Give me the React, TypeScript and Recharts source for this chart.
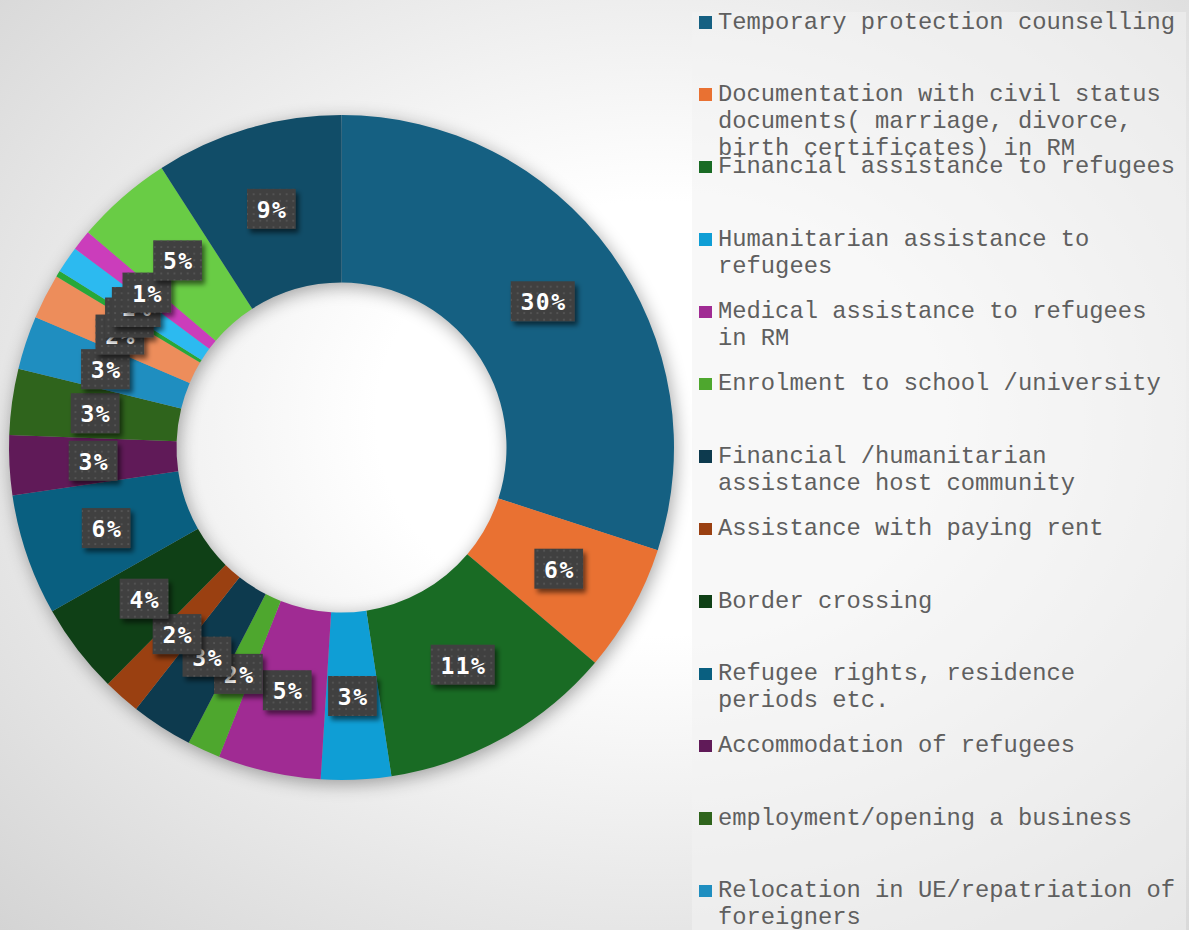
import React from 'react'
import { PieChart, Pie, Cell } from 'recharts'

// categories in slice order (last ones are cut off in the legend)
const CATEGORIES = [
  'Temporary protection counselling',
  'Documentation with civil status documents( marriage, divorce, birth certificates) in RM',
  'Financial assistance to refugees',
  'Humanitarian assistance to refugees',
  'Medical assistance to refugees in RM',
  'Enrolment to school /university',
  'Financial /humanitarian assistance host community',
  'Assistance with paying rent',
  'Border crossing',
  'Refugee rights, residence periods etc.',
  'Accommodation of refugees',
  'employment/opening a business',
  'Relocation in UE/repatriation of foreigners',
  'Category 14',
  'Category 15',
  'Category 16',
  'Category 17',
  'Category 18',
  'Category 19',
]

// share of requests, %
const VALUES = [30.0, 6.2, 11.4, 3.4, 5.0, 1.6, 3.0, 1.8, 4.4, 5.9, 2.9, 3.2, 2.6, 2.2, 0.3, 1.3, 1.0, 4.7, 9.1]

const COLORS = [
  '#156082', '#E97132', '#196B24', '#0F9ED5', '#A02B93', '#4EA72E',
  '#0D3A4E', '#9A4011', '#0F4016', '#095F80', '#601A58', '#2F641C',
  '#1F8EC0', '#ED8D5B', '#27A838', '#2CBAF0', '#CB3DBB', '#69CC45',
  '#114D68',
]

const RING = [{ name: 'ring', value: 1 }]

const RAD = Math.PI / 180
const LABEL_FONT = 23
const PITCH = LABEL_FONT * 0.602 + 1.5
// chart margin is 5px, so the centre is given relative to it
const CX = 336.5
const CY = 442.5

const renderLabel = (props: any) => {
  const { cx, cy, midAngle, innerRadius, outerRadius, percent, index } = props
  const r = (innerRadius + outerRadius) / 2
  const x = cx + r * Math.cos(-midAngle * RAD)
  const y = cy + r * Math.sin(-midAngle * RAD)
  const text = `${Math.round(percent * 100)}%`
  const w = text.length * PITCH + 18
  const h = 40
  return (
    <g key={`lbl-${index}`}>
      <rect x={x - w / 2} y={y - h / 2} width={w} height={h} fill="#404040" filter="url(#labelShadow)" />
      <rect x={x - w / 2} y={y - h / 2} width={w} height={h} fill="url(#dots)" />
      <text
        x={x + 0.75}
        y={y + 1}
        textAnchor="middle"
        dominantBaseline="central"
        fill="#ffffff"
        fontFamily="'DejaVu Sans Mono', monospace"
        fontWeight="bold"
        fontSize={LABEL_FONT}
        letterSpacing={1.5}
      >
        {text}
      </text>
    </g>
  )
}

export default function App() {
  const data = CATEGORIES.map((name, i) => ({ name, value: VALUES[i] }))

  return (
    <div
      style={{
        position: 'absolute',
        left: 0,
        top: 0,
        width: 1189,
        height: 930,
        overflow: 'hidden',
        background:
          'radial-gradient(ellipse farthest-corner at 55% 45%, #ffffff 0%, #ffffff 30%, #d4d4d4 100%)',
      }}
    >
      <div style={{ position: 'absolute', left: 0, top: 0 }}>
        <PieChart width={1189} height={930}>
          <defs>
            <filter id="ringShadow" x="-20%" y="-20%" width="140%" height="140%">
              <feGaussianBlur in="SourceAlpha" stdDeviation="9" />
              <feOffset dx="2" dy="4" result="b" />
              <feComponentTransfer>
                <feFuncA type="linear" slope="0.35" />
              </feComponentTransfer>
            </filter>
            <filter id="labelShadow" x="-30%" y="-30%" width="160%" height="170%">
              <feDropShadow dx="3" dy="4" stdDeviation="2.5" floodColor="#000" floodOpacity="0.55" />
            </filter>
            <pattern id="dots" patternUnits="userSpaceOnUse" width="6.6" height="6.6">
              <rect x="2" y="2" width="1.8" height="1.8" fill="#555555" />
            </pattern>
          </defs>
          <Pie
            data={RING}
            dataKey="value"
            cx={CX}
            cy={CY}
            innerRadius={165}
            outerRadius={332.5}
            startAngle={90}
            endAngle={-270}
            fill="#000"
            stroke="none"
            filter="url(#ringShadow)"
            isAnimationActive={false}
            legendType="none"
          />
          <Pie
            data={data}
            dataKey="value"
            nameKey="name"
            cx={CX}
            cy={CY}
            innerRadius={165}
            outerRadius={332.5}
            startAngle={90}
            endAngle={-270}
            stroke="none"
            label={renderLabel}
            labelLine={false}
            isAnimationActive={false}
          >
            {data.map((d, i) => (
              <Cell key={d.name} fill={COLORS[i]} />
            ))}
          </Pie>
        </PieChart>
      </div>

      {/* Legend */}
      <div
        style={{
          position: 'absolute',
          left: 691.5,
          top: 12,
          width: 494,
          height: 940,
          background: 'rgba(242,242,242,0.55)',
        }}
      />
      <div style={{ position: 'absolute', left: 699, top: 8.5 }}>
        {data.map((d, i) => (
          <div key={d.name} style={{ height: 72.4, display: 'flex', alignItems: 'flex-start' }}>
            <div
              style={{
                width: 12.5,
                height: 12.5,
                marginTop: 7.5,
                marginRight: 6.5,
                background: COLORS[i],
                flex: 'none',
              }}
            />
            <div
              style={{
                width: '32.5ch',
                fontFamily: "'Liberation Mono', monospace",
                fontSize: 23.8,
                lineHeight: '27px',
                color: '#5f5f5f',
                whiteSpace: 'normal',
              }}
            >
              {d.name}
            </div>
          </div>
        ))}
      </div>
    </div>
  )
}
